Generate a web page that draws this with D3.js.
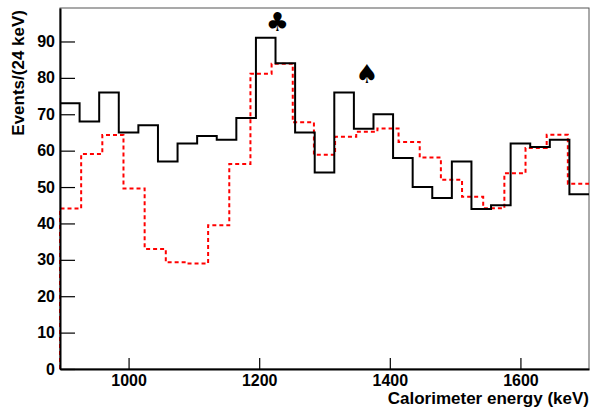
<!DOCTYPE html>
<html>
<head>
<meta charset="utf-8">
<script src="https://cdn.jsdelivr.net/npm/d3@7"></script>
<style>
  body { margin: 0; background: #fff; }
</style>
</head>
<body>
<svg id="chart" width="590" height="409"></svg>
<script>
// data histogram (30 keV bins starting at 895 keV)
const dataStart = 895;
const dataBinWidth = 30;
const dataCounts = [73, 68, 76, 65, 67, 57, 62, 64, 63, 69, 91, 84, 65, 54, 76, 66, 70, 58, 50, 47, 57, 44, 45, 62, 61, 63, 48];

// simulation histogram (25 bins over the same range)
const simStart = 895;
const simBinWidth = 32.4;
const simCounts = [44.1, 59.1, 64.3, 49.6, 33.0, 29.3, 29.0, 39.5, 56.3, 81.1, 83.9, 67.8, 58.9, 63.8, 65.2, 66.1,
                   62.4, 58.1, 52.0, 47.3, 44.2, 53.8, 60.7, 64.4, 50.9];

const xTicks = [1000, 1200, 1400, 1600];
const yTicks = [0, 10, 20, 30, 40, 50, 60, 70, 80, 90];

const markers = [
    { symbol: "\u2663", energy: 1228, count: 93 },
    { symbol: "\u2660", energy: 1365, count: 78.5 }
];

const font = "'Liberation Sans', Arial, Helvetica, sans-serif";

const margin = { top: 8, right: 1, bottom: 40, left: 60 };
const width = 590 - margin.left - margin.right;
const height = 409 - margin.top - margin.bottom;

const svg = d3.select("#chart");
const g = svg.append("g").attr("transform", `translate(${margin.left},${margin.top})`);

const x = d3.scaleLinear().domain([895, 1705]).range([0, width]);
const y = d3.scaleLinear().domain([0, 99.2]).range([height, 0]);

function stepPoints(start, w, counts, fromZero) {
    const pts = [];
    if (fromZero) pts.push([start, 0]);
    counts.forEach((c, i) => pts.push([start + i * w, c]));
    pts.push([start + counts.length * w, counts[counts.length - 1]]);
    return pts;
}

const line = d3.line()
    .x(d => x(d[0]))
    .y(d => y(d[1]))
    .curve(d3.curveStepAfter);

// frame (top / right)
g.append("rect")
    .attr("x", 0).attr("y", 0)
    .attr("width", width).attr("height", height)
    .attr("fill", "none")
    .attr("stroke", "#555")
    .attr("stroke-width", 1);

g.append("path")
    .datum(stepPoints(simStart, simBinWidth, simCounts, true))
    .attr("d", line)
    .attr("fill", "none")
    .attr("stroke", "#ff0000")
    .attr("stroke-width", 2)
    .attr("stroke-dasharray", "4,3");

g.append("path")
    .datum(stepPoints(dataStart, dataBinWidth, dataCounts, false))
    .attr("d", line)
    .attr("fill", "none")
    .attr("stroke", "#000")
    .attr("stroke-width", 2);

// axes with ticks inside
const xAxis = g.append("g")
    .attr("transform", `translate(0,${height})`)
    .call(d3.axisBottom(x).tickValues(xTicks).tickFormat(d3.format("d"))
        .tickSizeInner(-11).tickSizeOuter(0).tickPadding(6));
xAxis.select(".domain").attr("stroke-width", 2);
xAxis.selectAll(".tick line").attr("stroke-width", 1.2);

const yAxis = g.append("g")
    .call(d3.axisLeft(y).tickValues(yTicks).tickSizeInner(-15).tickSizeOuter(0).tickPadding(5));
yAxis.select(".domain").attr("stroke-width", 2);
yAxis.selectAll(".tick line").attr("stroke-width", 1.2);

svg.selectAll(".tick text")
    .attr("fill", "#000")
    .style("font-family", font)
    .style("font-weight", "bold")
    .style("font-size", "16px");

g.append("text")
    .attr("x", width)
    .attr("y", height + 34.5)
    .attr("text-anchor", "end")
    .style("font-family", font)
    .style("font-weight", "bold")
    .style("font-size", "17px")
    .text("Calorimeter energy (keV)");

g.append("text")
    .attr("transform", "rotate(-90)")
    .attr("x", -2)
    .attr("y", -margin.left + 24)
    .attr("text-anchor", "end")
    .style("font-family", font)
    .style("font-weight", "bold")
    .style("font-size", "17px")
    .text("Events/(24 keV)");

g.selectAll(".marker")
    .data(markers)
    .enter().append("text")
    .attr("class", "marker")
    .attr("x", d => x(d.energy))
    .attr("y", d => y(d.count))
    .attr("text-anchor", "middle")
    .style("font-family", "'DejaVu Sans'")
    .style("font-size", "26px")
    .text(d => d.symbol);
</script>
</body>
</html>
